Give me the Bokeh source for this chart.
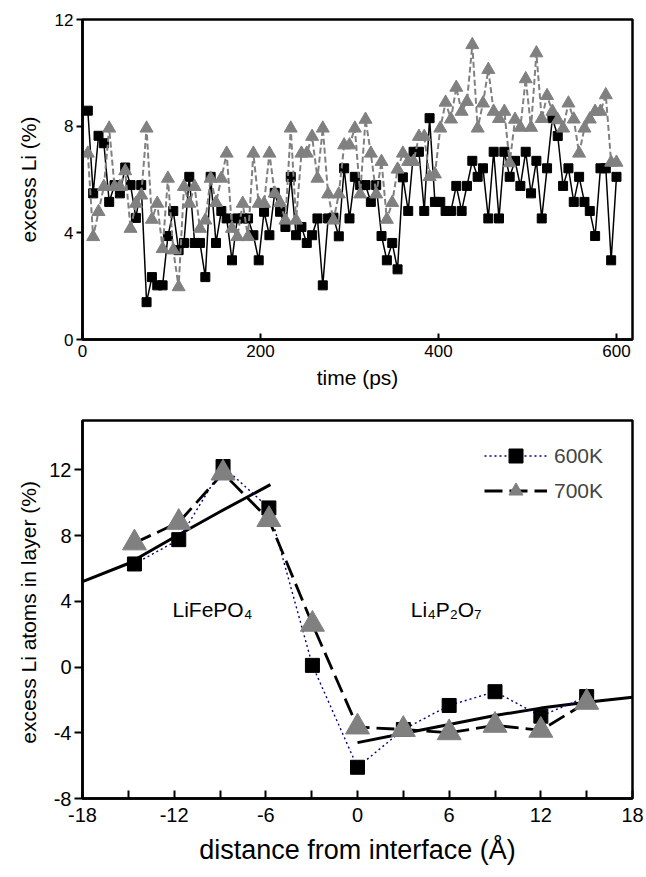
from bokeh.plotting import figure
from bokeh.layouts import column
from bokeh.models import Range1d, FixedTicker, Legend, LegendItem
from bokeh.embed import file_html
from bokeh.resources import INLINE
from bokeh.core.properties import value

FONT = "Liberation Sans"

# ---------------- data: top panel (excess Li vs time) ----------------
time_ps = list(range(6, 601, 6))
li_600 = [8.58, 5.48, 7.64, 7.36, 5.16, 5.79, 5.48, 6.45, 5.79, 4.56,
          5.79, 1.40, 2.34, 2.03, 2.03, 3.88, 4.82, 3.35, 3.62, 6.10,
          3.62, 3.62, 2.34, 6.10, 3.62, 4.82, 4.54, 2.97, 4.54, 4.54,
          4.54, 3.91, 2.97, 4.79, 3.91, 5.50, 4.79, 4.22, 6.10, 3.91,
          4.22, 3.62, 3.91, 4.54, 2.03, 4.54, 4.57, 3.87, 6.42, 4.54,
          6.10, 5.79, 5.79, 5.16, 5.79, 3.88, 2.97, 3.62, 2.63, 6.08,
          4.82, 7.04, 7.04, 4.82, 8.30, 5.16, 5.16, 4.82, 4.82, 5.76,
          4.82, 5.76, 6.70, 6.10, 6.42, 4.54, 7.04, 4.54, 7.04, 6.10,
          6.70, 5.76, 7.04, 5.48, 6.70, 4.54, 6.42, 8.30, 7.63, 5.76,
          6.42, 5.16, 6.10, 5.16, 4.82, 3.88, 6.42, 6.42, 2.97, 6.10]
li_700 = [6.98, 3.85, 4.79, 5.73, 7.92, 5.73, 5.73, 6.32, 4.16, 5.10,
          5.41, 7.92, 4.50, 5.10, 3.40, 6.04, 3.35, 1.97, 5.73, 5.10,
          5.73, 4.16, 4.47, 6.04, 5.13, 6.04, 6.98, 4.16, 3.85, 5.10,
          3.85, 6.98, 5.10, 5.10, 6.98, 5.48, 5.13, 4.47, 7.92, 4.47,
          6.98, 6.98, 7.61, 6.04, 7.92, 5.45, 4.47, 5.45, 7.29, 7.29,
          7.92, 5.45, 8.25, 6.98, 5.45, 6.67, 4.50, 5.13, 6.38, 6.98,
          6.67, 6.67, 7.61, 7.61, 6.10, 6.20, 7.92, 8.89, 8.26, 9.45,
          8.55, 8.92, 11.05, 7.92, 8.86, 10.12, 8.55, 8.28, 8.55, 6.62,
          8.25, 7.95, 9.77, 7.95, 10.74, 8.28, 9.14, 8.55, 8.23, 7.92,
          8.86, 8.26, 6.98, 7.92, 8.26, 8.55, 8.55, 9.17, 6.64, 6.64]
top_xticks = [0, 200, 400, 600]
top_yticks = [0, 4, 8, 12]

# ---------------- data: bottom panel (excess Li per layer) ----------------
dist = [-14.6, -11.7, -8.8, -5.8, -2.95, 0, 3, 6, 9, 12, 15]
layer_600 = [6.27, 7.75, 12.2, 9.68, 0.1, -6.1, -3.8, -2.34, -1.5, -2.99, -1.8]
layer_700 = [7.55, 8.8, 11.8, 8.97, 2.6, -3.65, -3.8, -4.0, -3.55, -3.85, -2.15]
fit_left_x = [-18, -15, -12, -9, -5.7]
fit_left_y = [5.2, 6.3, 7.9, 9.45, 11.1]
fit_right_x = [0, 3, 6, 9, 12, 15, 18]
fit_right_y = [-4.6, -4.05, -3.5, -2.95, -2.5, -2.14, -1.84]
bot_xticks = [-18, -12, -6, 0, 6, 12, 18]
bot_xminor = [-15, -9, -3, 3, 9, 15]
bot_yticks = [-8, -4, 0, 4, 8, 12]

GRAY = "#808080"


def style_axes(p, tick_size):
    p.xgrid.visible = False
    p.ygrid.visible = False
    p.outline_line_color = "black"
    p.outline_line_width = 2.5
    p.background_fill_color = "white"
    p.border_fill_color = "white"
    for ax in (p.xaxis[0], p.yaxis[0]):
        ax.axis_line_width = 2.5
        ax.axis_line_color = "black"
        ax.major_tick_line_width = 2
        ax.minor_tick_line_width = 2
        ax.major_label_text_font = FONT
        ax.major_label_text_font_size = tick_size
        ax.major_label_text_color = "black"
        ax.axis_label_text_font = FONT
        ax.axis_label_text_font_style = "normal"
        ax.axis_label_text_color = "black"


def plain_labels(ticks):
    # hyphen-minus labels as in the reference (Bokeh defaults to U+2212)
    return {t: str(t) for t in ticks}


# ---------------- top figure ----------------
p1 = figure(width=646, height=400, x_range=Range1d(0, 618), y_range=Range1d(0, 12),
            output_backend="svg", toolbar_location=None,
            min_border_left=79, min_border_right=14, min_border_top=19, min_border_bottom=61)
style_axes(p1, "17px")
p1.xaxis.ticker = FixedTicker(ticks=top_xticks, minor_ticks=[])
p1.yaxis.ticker = FixedTicker(ticks=top_yticks, minor_ticks=[])
p1.xaxis.major_label_overrides = plain_labels(top_xticks)
p1.yaxis.major_label_overrides = plain_labels(top_yticks)
p1.xaxis.major_tick_in = 6
p1.xaxis.major_tick_out = 0
p1.yaxis.major_tick_in = 0
p1.yaxis.major_tick_out = 6
p1.xaxis.major_label_standoff = 5
p1.yaxis.major_label_standoff = 3
p1.xaxis.axis_label = "time (ps)"
p1.yaxis.axis_label = "excess Li (%)"
p1.xaxis.axis_label_text_font_size = "21px"
p1.yaxis.axis_label_text_font_size = "21px"
p1.xaxis.axis_label_standoff = 6
p1.yaxis.axis_label_standoff = 12

p1.line(time_ps, li_600, line_color="black", line_width=1.5)
p1.scatter(time_ps, li_600, marker="square", size=9, fill_color="black", line_color="black")
p1.line(time_ps, li_700, line_color=GRAY, line_width=2, line_dash="6 3")
p1.scatter(time_ps, li_700, marker="triangle", size=13, fill_color=GRAY, line_color=GRAY)

# ---------------- bottom figure ----------------
p2 = figure(width=646, height=477, x_range=Range1d(-18, 18), y_range=Range1d(-8, 15),
            output_backend="svg", toolbar_location=None,
            min_border_left=82, min_border_right=12, min_border_top=20, min_border_bottom=79)
style_axes(p2, "20px")
p2.xaxis.ticker = FixedTicker(ticks=bot_xticks, minor_ticks=bot_xminor)
p2.yaxis.ticker = FixedTicker(ticks=bot_yticks, minor_ticks=[])
p2.xaxis.major_label_overrides = plain_labels(bot_xticks)
p2.yaxis.major_label_overrides = plain_labels(bot_yticks)
p2.xaxis.major_tick_in = 8
p2.xaxis.major_tick_out = 0
p2.xaxis.minor_tick_in = 8
p2.xaxis.minor_tick_out = 0
p2.yaxis.major_tick_in = 0
p2.yaxis.major_tick_out = 8
p2.xaxis.major_label_standoff = 9
p2.yaxis.major_label_standoff = 3
p2.xaxis.axis_label = "distance from interface (Å)"
p2.yaxis.axis_label = "excess Li atoms in layer  (%)"
p2.xaxis.axis_label_text_font_size = "27px"
p2.yaxis.axis_label_text_font_size = "21px"
p2.xaxis.axis_label_standoff = 10
p2.yaxis.axis_label_standoff = 6

p2.line(fit_left_x, fit_left_y, line_color="black", line_width=3)
p2.line(fit_right_x, fit_right_y, line_color="black", line_width=3)
l600 = p2.line(dist, layer_600, line_color="navy", line_width=1.4, line_dash="2 3")
s600 = p2.scatter(dist, layer_600, marker="square", size=14, fill_color="black", line_color="black")
l700 = p2.line(dist, layer_700, line_color="black", line_width=2.8, line_dash="18 7")
s700 = p2.scatter(dist, layer_700, marker="triangle", size=24, fill_color=GRAY, line_color=GRAY)

p2.text(x=[-9.5], y=[3.5], text=["LiFePO\u2084"], text_font=value(FONT), text_font_size="21px",
        text_align="center", text_baseline="middle", text_color="black")
p2.text(x=[5.8], y=[3.5], text=["Li\u2084P\u2082O\u2087"], text_font=value(FONT), text_font_size="21px",
        text_align="center", text_baseline="middle", text_color="black")

legend = Legend(items=[LegendItem(label="600K", renderers=[l600, s600]),
                       LegendItem(label="700K", renderers=[l700, s700])],
                location=(402, 290), glyph_width=63, glyph_height=35, spacing=0,
                padding=0, margin=0, label_standoff=7, label_height=35,
                label_text_font=FONT, label_text_font_size="21px",
                border_line_color=None, background_fill_alpha=0)
p2.add_layout(legend)

layout = column(p1, p2)
open("out.html", "w").write(file_html(layout, INLINE))
